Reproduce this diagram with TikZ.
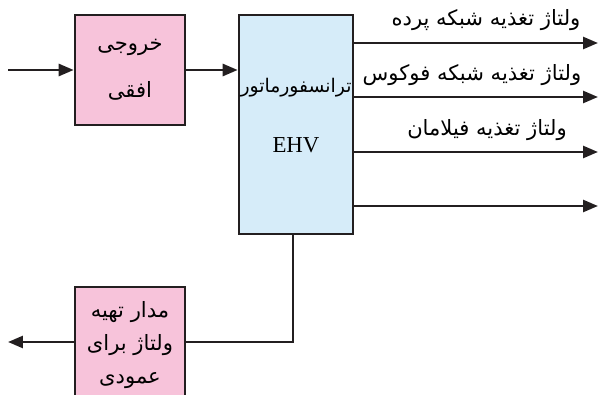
\documentclass[tikz,border=0pt]{standalone}
\usepackage{fontspec}
\setmainfont{Liberation Serif}
\newfontfamily\arabicfont[Script=Arabic]{DejaVu Sans}
\TeXXeTstate=1
\usetikzlibrary{arrows.meta}
\definecolor{boxpink}{HTML}{F7C3DA}
\definecolor{boxblue}{HTML}{D6ECF9}
\definecolor{ink}{HTML}{231F20}

\begin{document}
\begin{tikzpicture}[x=0.02cm, y=-0.02cm,
    block/.style={draw=ink, line width=1.5pt, inner sep=0pt, align=center},
    wire/.style={draw=ink, line width=1.5pt},
    flow/.style={wire, -{Triangle[length=0.3cm, width=0.24cm]}},
    fa/.style={font=\arabicfont\fontsize{12}{14}\selectfont, align=center}]
  \clip (0,0) rectangle (599,395);
  % blocks
  \node[block, fa, fill=boxpink, minimum width=2.2cm, minimum height=2.2cm] (ofoghi) at (130,70)
    {\beginR خروجی\endR\\[13pt]\beginR افقی\endR};
  \node[block, fill=boxblue, minimum width=2.28cm, minimum height=4.38cm] (ehv) at (296,124.5) {};
  \node[fa, font=\arabicfont\fontsize{10.7}{13}\selectfont] (trans) at (296,88) {\beginR ترانسفورماتور\endR};
  \node[font=\fontsize{13}{15}\selectfont] (ehvname) at (296,145) {EHV};
  \node[block, fa, fill=boxpink, minimum width=2.2cm, minimum height=2.32cm] (amudi) at (130,345)
    {\beginR مدار تهیه\endR\\[5pt]\beginR ولتاژ برای\endR\\[5pt]\beginR عمودی\endR};
  % output labels
  \node[fa] (parde) at (486,20) {\beginR ولتاژ تغذیه شبکه پرده\endR};
  \node[fa] (focus) at (472,75) {\beginR ولتاژ تغذیه شبکه فوکوس\endR};
  \node[fa] (filament) at (487,130) {\beginR ولتاژ تغذیه فیلامان\endR};
  % free ends
  \coordinate (in) at (8,70);
  \coordinate (out1) at (598,43);
  \coordinate (out2) at (598,97);
  \coordinate (out3) at (598,152);
  \coordinate (out4) at (598,206);
  \coordinate (bend) at (293,342);
  \coordinate (vout) at (8,342);
  % connectors
  \draw[flow] (in) -- (ofoghi.west);
  \draw[flow] (ofoghi.east) -- (ofoghi.east -| ehv.west);
  \draw[flow] (ehv.east |- out1) -- (out1);
  \draw[flow] (ehv.east |- out2) -- (out2);
  \draw[flow] (ehv.east |- out3) -- (out3);
  \draw[flow] (ehv.east |- out4) -- (out4);
  \draw[wire] (ehv.south -| bend) -- (bend) -- (amudi.east |- bend);
  \draw[flow] (amudi.west |- vout) -- (vout);
\end{tikzpicture}
\end{document}
